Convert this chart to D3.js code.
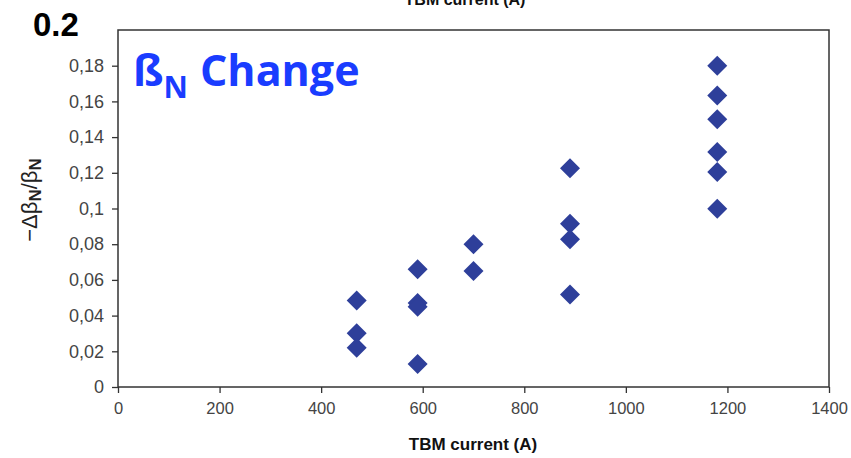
<!DOCTYPE html>
<html><head><meta charset="utf-8">
<script src="https://cdn.jsdelivr.net/npm/d3@7"></script>
<style>body{margin:0;background:#fff}svg{display:block}</style>
</head><body>
<script>
const xValues = [470,470,470, 590,590,590,590, 700,700, 890,890,890,890, 1180,1180,1180,1180,1180,1180];
const yValues = [0.0484,0.0301,0.022, 0.066,0.047,0.045,0.0129, 0.080,0.065, 0.1226,0.0914,0.0828,0.0518, 0.180,0.1633,0.150,0.1316,0.1204,0.0998];
const xTicks = [0,200,400,600,800,1000,1200,1400];
const yTicks = [0,0.02,0.04,0.06,0.08,0.1,0.12,0.14,0.16,0.18];
const xTitle = "TBM current (A)";
const chartTitle = "Change";

const W=851,H=458;
const svg=d3.select("body").append("svg").attr("width",W).attr("height",H);
const L=118,R=829,T=30,B=387;
const x=d3.scaleLinear().domain([0,1400]).range([L,R]);
const y=d3.scaleLinear().domain([0,0.2]).range([B,T]);
const axisColor="#333";

// box
svg.append("rect").attr("x",L).attr("y",T).attr("width",R-L).attr("height",B-T)
  .attr("fill","none").attr("stroke",axisColor).attr("stroke-width",1.5);

const fmt=d=>d===0?"0":String(+d.toFixed(2)).replace(".",",");
const ya=svg.append("g").attr("transform",`translate(${L},0)`)
  .call(d3.axisLeft(y).tickValues(yTicks).tickSize(6).tickPadding(8).tickFormat(fmt));
ya.select(".domain").remove();
ya.selectAll("line").attr("stroke",axisColor).attr("stroke-width",1.3);
ya.selectAll("text").attr("font-family","Liberation Sans, Arial, sans-serif").attr("font-size",18).attr("fill","#444");

const xa=svg.append("g").attr("transform",`translate(0,${B})`)
  .call(d3.axisBottom(x).tickValues(xTicks).tickSize(6).tickPadding(9).tickFormat(d3.format("d")));
xa.select(".domain").remove();
xa.selectAll("line").attr("stroke",axisColor).attr("stroke-width",1.3);
xa.selectAll("text").attr("font-family","Liberation Sans, Arial, sans-serif").attr("font-size",16.5).attr("fill","#444");

// points
const diamond=d3.symbol().type(d3.symbolSquare).size(200);
svg.append("g").selectAll("path").data(xValues.map((v,i)=>[v,yValues[i]])).join("path")
  .attr("d",diamond)
  .attr("transform",d=>`translate(${x(d[0])},${y(d[1])}) rotate(45)`)
  .attr("fill","#2E3F9A");

// x title
svg.append("text").attr("x",473).attr("y",450).attr("text-anchor","middle")
  .attr("font-family","Liberation Sans, Arial, sans-serif").attr("font-weight","bold").attr("font-size",17)
  .attr("fill","#111").text(xTitle);
// cut-off top title (partially visible, as in the original)
svg.append("text").attr("x",465).attr("y",5).attr("text-anchor","middle")
  .attr("font-family","Liberation Sans, Arial, sans-serif").attr("font-weight","bold").attr("font-size",16)
  .attr("fill","#111").text(xTitle);

// y title
const yt=svg.append("text").attr("transform","translate(37,200) rotate(-90)").attr("text-anchor","middle")
  .attr("font-family","Liberation Sans, Arial, sans-serif").attr("font-size",22).attr("fill","#222");
yt.append("tspan").text("\u2212\u0394\u03B2");
yt.append("tspan").attr("font-weight","bold").attr("font-size",17).attr("dy",4).text("N");
yt.append("tspan").attr("dy",-4).text("/\u03B2");
yt.append("tspan").attr("font-weight","bold").attr("font-size",17).attr("dy",4).text("N");

// big 0.2
svg.append("text").attr("x",33).attr("y",36)
  .attr("font-family","Liberation Sans, Arial, sans-serif").attr("font-weight","bold").attr("font-size",33)
  .attr("fill","#000").text("0.2");

// beta_N Change
const bt=svg.append("text").attr("x",133).attr("y",86)
  .attr("font-family","Open Sans, sans-serif").attr("font-weight","bold").attr("font-size",43)
  .attr("fill","#1A3CFF");
bt.append("tspan").text("\u00DF");
bt.append("tspan").attr("font-size",30).attr("dy",12).text("N");
bt.append("tspan").attr("dy",-12).attr("dx",12).text(chartTitle);
</script>
</body></html>
